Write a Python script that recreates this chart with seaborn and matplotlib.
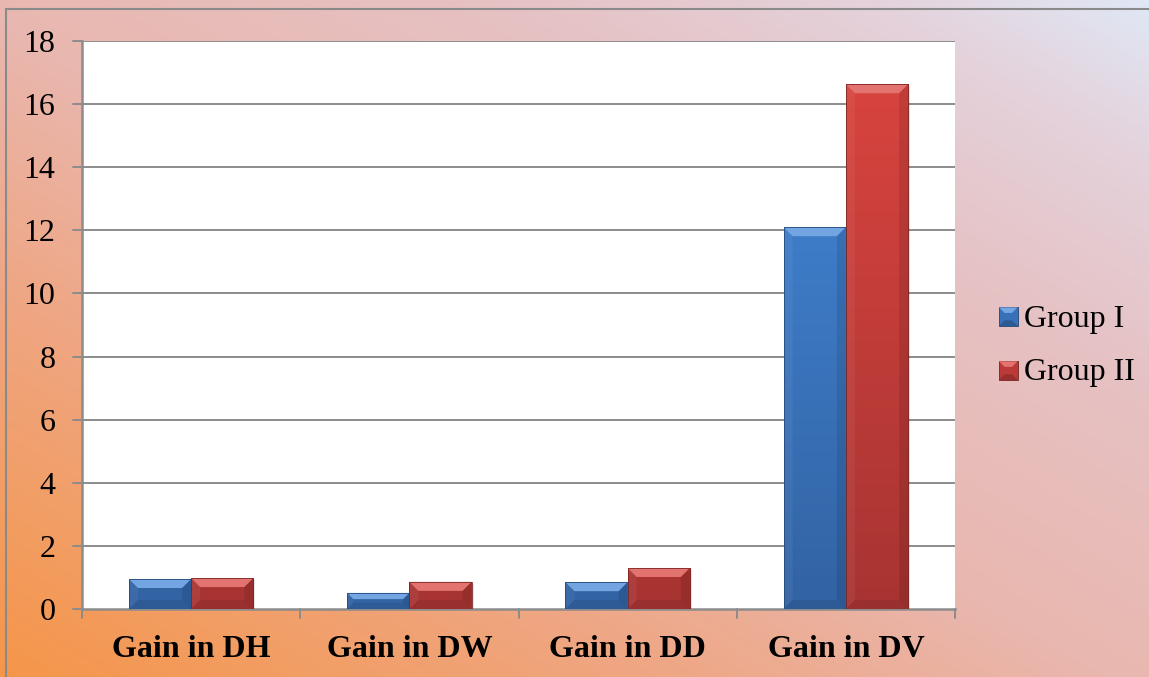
import numpy as np
import pandas as pd
import matplotlib
matplotlib.use("Agg")
import matplotlib.pyplot as plt
from matplotlib.colors import LinearSegmentedColormap, to_rgb
from matplotlib.patches import Polygon, Rectangle
from matplotlib.legend_handler import HandlerBase
import seaborn as sns

# ---- data ----
categories = ["Gain in DH", "Gain in DW", "Gain in DD", "Gain in DV"]
group_names = ["Group I", "Group II"]
group1 = [0.95, 0.51, 0.85, 12.1]
group2 = [0.98, 0.86, 1.30, 16.63]
yticks = [0, 2, 4, 6, 8, 10, 12, 14, 16, 18]

df = pd.DataFrame({
    "category": categories * 2,
    "group": [group_names[0]] * 4 + [group_names[1]] * 4,
    "value": group1 + group2,
})

# light/dark shades of each series (dark at baseline, light towards the top)
shades = {
    "Group I": ("#3263A3", "#4387D8"),
    "Group II": ("#A73432", "#D9443F"),
}
base_palette = {g: shades[g][0] for g in group_names}

sns.set_theme(style="white")
plt.rcParams["font.family"] = ["Liberation Serif", "DejaVu Serif"]

W, H = 1149, 677
FS = 23
fig = plt.figure(figsize=(W / 100, H / 100), dpi=100)

# ---- diagonal background gradient ----
bg = fig.add_axes([0, 0, 1, 1], zorder=-10)
bg.set_axis_off()
xx, yy = np.meshgrid(np.linspace(0, 1, 400), np.linspace(0, 1, 240))
t = (xx + yy) / 2.0
bg_cmap = LinearSegmentedColormap.from_list(
    "bg",
    [(0.0, "#F5964A"), (0.28, "#EFA682"), (0.48, "#E9B7AF"),
     (0.72, "#E6C2C4"), (0.88, "#E4D2DB"), (1.0, "#E0E7F5")],
)
bg.imshow(t, cmap=bg_cmap, origin="lower", extent=[0, 1, 0, 1],
          aspect="auto", vmin=0, vmax=1)
bg.set_xlim(0, 1)
bg.set_ylim(0, 1)
# thin frame around the chart area
bg.plot([6 / W, 6 / W], [0, 1 - 9 / H], color="#8a8a8a", lw=1.5)
bg.plot([6 / W, 1], [1 - 9 / H, 1 - 9 / H], color="#8a8a8a", lw=1.5)

# ---- main plot ----
left, right, top, bottom = 82 / W, 955 / W, 41 / H, 609 / H
ax = fig.add_axes([left, 1 - bottom, right - left, bottom - top])
ax.set_facecolor("white")

sns.barplot(data=df, x="category", y="value", hue="group", order=categories,
            hue_order=group_names, palette=base_palette, width=0.57,
            saturation=1, legend=False, ax=ax, zorder=3)

ax.set_xlim(-0.5, 3.5)
ax.set_ylim(0, 18)
ax.set_yticks(yticks)
ax.set_yticklabels([str(v) for v in yticks], fontsize=FS, color="black")
ax.set_xlabel("")
ax.set_ylabel("")
ax.set_xticks(range(len(categories)))
ax.set_xticklabels(categories, fontsize=FS, fontweight="bold", color="black")
ax.tick_params(axis="x", length=0, pad=19)
ax.tick_params(axis="y", length=0, pad=19)

# horizontal gridlines
for v in yticks[1:]:
    ax.axhline(v, color="#8c8c8c", lw=1.4, zorder=1)
for s in ["top", "right"]:
    ax.spines[s].set_visible(False)
for s in ["left", "bottom"]:
    ax.spines[s].set_color("#8c8c8c")
    ax.spines[s].set_linewidth(1.8)

# outward tick marks: y ticks to the left, x ticks at the category boundaries
for v in yticks:
    ax.plot([-0.5 - 0.04, -0.5], [v, v], color="#8c8c8c", lw=1.4,
            clip_on=False, zorder=4)
for b in np.arange(-0.5, 3.6, 1.0):
    ax.plot([b, b], [0, -0.28], color="#8c8c8c", lw=1.4, clip_on=False,
            zorder=4)

# ---- bevelled bars ----
px_x = (right - left) * W / 4.0   # pixels per x unit
px_y = (bottom - top) * H / 18.0  # pixels per y unit


def mix(c, other, a):
    c = np.array(to_rgb(c))
    o = np.array(to_rgb(other))
    return tuple(c * (1 - a) + o * a)


bar_patches = [p for p in ax.patches if p.get_height() > 0]
for p in bar_patches:
    x0, w = p.get_x(), p.get_width()
    y0, h = p.get_y(), p.get_height()
    x1, y1 = x0 + w, y0 + h
    fc = np.array(p.get_facecolor()[:3])
    grp = min(shades, key=lambda g: np.abs(np.array(to_rgb(shades[g][0])) - fc).sum())
    dark, light = shades[grp]
    p.set_visible(False)

    # soft drop shadow
    ax.add_patch(Rectangle((x0 + 2 / px_x, y0 - 2 / px_y), w, h,
                           facecolor="black", alpha=0.10, lw=0, zorder=2))

    # face with a vertical gradient tied to the value axis
    face_cmap = LinearSegmentedColormap.from_list("f", [dark, light])
    grad = np.linspace(0, 1, 256).reshape(-1, 1)
    im = ax.imshow(grad, cmap=face_cmap, origin="lower", aspect="auto",
                   extent=[x0, x1, 0, 17], zorder=3, interpolation="bilinear")
    clip = Rectangle((x0, y0), w, h, transform=ax.transData)
    im.set_clip_path(clip)

    bpx = min(9.0, h * px_y / 2.6)
    bx, by = bpx / px_x, bpx / px_y
    top_poly = [(x0, y1), (x1, y1), (x1 - bx, y1 - by), (x0 + bx, y1 - by)]
    left_poly = [(x0, y0), (x0, y1), (x0 + bx, y1 - by), (x0 + bx, y0 + by)]
    right_poly = [(x1, y0), (x1, y1), (x1 - bx, y1 - by), (x1 - bx, y0 + by)]
    bot_poly = [(x0, y0), (x1, y0), (x1 - bx, y0 + by), (x0 + bx, y0 + by)]
    ax.add_patch(Polygon(top_poly, closed=True, lw=0, zorder=4,
                         facecolor=mix(light, "white", 0.25)))
    ax.add_patch(Polygon(left_poly, closed=True, lw=0, zorder=4,
                         facecolor="white", alpha=0.05))
    ax.add_patch(Polygon(right_poly, closed=True, lw=0, zorder=4,
                         facecolor="black", alpha=0.10))
    ax.add_patch(Polygon(bot_poly, closed=True, lw=0, zorder=4,
                         facecolor="black", alpha=0.08))
    ax.add_patch(Rectangle((x0, y0), w, h, fill=False, lw=0.6, zorder=5,
                           edgecolor=mix(dark, "black", 0.25)))


# ---- legend with small bevelled squares ----
class BevelSquare(HandlerBase):
    def __init__(self, dark, light):
        super().__init__()
        self.dark, self.light = dark, light

    def create_artists(self, legend, orig_handle, xdescent, ydescent, width,
                       height, fontsize, trans):
        s = min(width, height)
        x0 = -xdescent + width - s
        y0 = -ydescent + (height - s) / 2 - 1
        b = s * 0.3
        arts = [
            Rectangle((x0, y0), s, s, facecolor=mix(self.dark, self.light, 0.4),
                      edgecolor=mix(self.dark, "black", 0.3), lw=0.6,
                      transform=trans),
            Polygon([(x0, y0 + s), (x0 + s, y0 + s), (x0 + s - b, y0 + s - b),
                     (x0 + b, y0 + s - b)], closed=True, lw=0,
                    facecolor=mix(self.light, "white", 0.25), transform=trans),
            Polygon([(x0, y0), (x0 + s, y0), (x0 + s - b, y0 + b),
                     (x0 + b, y0 + b)], closed=True, lw=0,
                    facecolor=mix(self.dark, "black", 0.1), transform=trans),
        ]
        return arts


handles = [Rectangle((0, 0), 1, 1) for _ in group_names]
handler_map = {h: BevelSquare(*shades[g]) for h, g in zip(handles, group_names)}
leg = fig.legend(handles, group_names, handler_map=handler_map,
                 loc="center left", bbox_to_anchor=(999 / W, 1 - 346 / H),
                 frameon=False, fontsize=FS, handlelength=0.58,
                 handleheight=0.58, handletextpad=0.2, labelspacing=0.78,
                 borderaxespad=0, borderpad=0)
for txt in leg.get_texts():
    txt.set_color("black")

fig.savefig("out.png", dpi=100)
